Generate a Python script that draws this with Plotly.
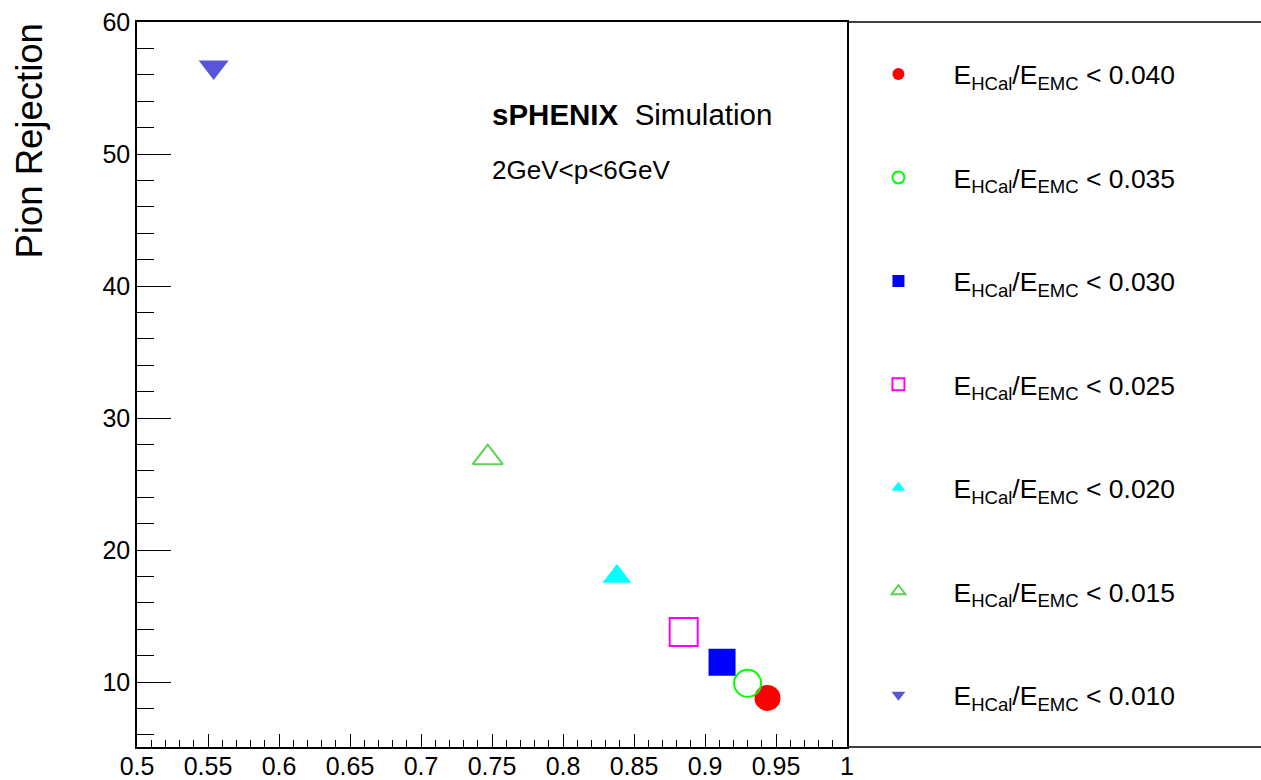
import plotly.graph_objects as go

# ---- data ----
cut_labels = ["0.040", "0.035", "0.030", "0.025", "0.020", "0.015", "0.010"]
efficiency = [0.944, 0.930, 0.912, 0.885, 0.838, 0.747, 0.554]
rejection = [8.8, 9.9, 11.5, 13.8, 18.0, 27.0, 56.6]
symbols = ["circle", "circle-open", "square", "square-open", "triangle-up", "triangle-up-open", "triangle-down"]
colors = ["#FF0000", "#00FF00", "#0000FF", "#FF00FF", "#00FFFF", "#59D454", "#5954D8"]
sizes = [26, 27, 27, 28, 25, 26, 26]

x_tickvals = [0.5, 0.55, 0.6, 0.65, 0.7, 0.75, 0.8, 0.85, 0.9, 0.95, 1.0]
x_ticktext = ["0.5", "0.55", "0.6", "0.65", "0.7", "0.75", "0.8", "0.85", "0.9", "0.95", "1"]
y_tickvals = [10, 20, 30, 40, 50, 60]
y_ticktext = ["10", "20", "30", "40", "50", "60"]

FONT = "Liberation Sans, Arial, sans-serif"

fig = go.Figure()
for i in range(len(cut_labels)):
    open_marker = symbols[i].endswith("-open")
    fig.add_trace(go.Scatter(
        x=[efficiency[i]], y=[rejection[i]],
        mode="markers",
        name="E<sub>HCal</sub>/E<sub>EMC</sub> &lt; " + cut_labels[i],
        legendgroup="g%d" % i,
        marker=dict(symbol=symbols[i], color=colors[i], size=sizes[i],
                    line=dict(width=2 if open_marker else 0, color=colors[i])),
    ))

W, H = 1261, 780
L, R, T, B = 137, 414, 22, 33
plot_w = W - L - R
plot_h = H - T - B

fig.update_layout(
    width=W, height=H,
    margin=dict(l=L, r=R, t=T, b=B, autoexpand=False),
    paper_bgcolor="white", plot_bgcolor="white",
    font=dict(family=FONT, color="black", size=25),
    showlegend=True,
    legend=dict(
        x=0.995, xanchor="left", y=0.961, yanchor="top",
        font=dict(family=FONT, size=26.5, color="black"),
        itemwidth=100, itemsizing="constant",
        tracegroupgap=66, traceorder="grouped",
        bgcolor="rgba(0,0,0,0)", borderwidth=0,
    ),
    xaxis=dict(
        range=[0.5, 1.0], tickvals=x_tickvals, ticktext=x_ticktext,
        ticks="inside", ticklen=13, tickwidth=1.3, tickcolor="black",
        minor=dict(dtick=0.01, ticks="inside", ticklen=7, tickwidth=1.3, tickcolor="black", showgrid=False),
        showline=True, linecolor="black", linewidth=1.5, mirror=True,
        showgrid=False, zeroline=False, automargin=False,
        tickfont=dict(family=FONT, size=25, color="black"),
        ticklabelstandoff=-4,
    ),
    yaxis=dict(
        range=[5.08, 60], tickvals=y_tickvals, ticktext=y_ticktext,
        ticks="inside", ticklen=34, tickwidth=1.3, tickcolor="black",
        minor=dict(dtick=2, ticks="inside", ticklen=17, tickwidth=1.3, tickcolor="black", showgrid=False),
        showline=True, linecolor="black", linewidth=1.5, mirror=True,
        showgrid=False, zeroline=False, automargin=False,
        tickfont=dict(family=FONT, size=25, color="black"),
        ticklabelstandoff=0,
    ),
)

# legend frame (top & bottom lines continuing to right edge)
x_right = (W - L) / plot_w + 0.05
fig.add_shape(type="line", xref="paper", yref="paper", x0=1, x1=x_right, y0=1, y1=1,
              line=dict(color="black", width=1.5))
fig.add_shape(type="line", xref="paper", yref="paper", x0=1, x1=x_right, y0=0, y1=0,
              line=dict(color="black", width=1.5))

# texts
fig.add_annotation(xref="paper", yref="paper", x=0.497, y=0.872, xanchor="left", yanchor="middle",
                   text="<b>sPHENIX</b>  Simulation", showarrow=False,
                   font=dict(family=FONT, size=29.5, color="black"))
fig.add_annotation(xref="paper", yref="paper", x=0.497, y=0.796, xanchor="left", yanchor="middle",
                   text="2GeV&lt;p&lt;6GeV", showarrow=False,
                   font=dict(family=FONT, size=26, color="black"))
fig.add_annotation(xref="paper", yref="paper", x=(29 - L) / plot_w, y=1.0, xanchor="center", yanchor="top",
                   text="Pion Rejection", textangle=-90, showarrow=False,
                   font=dict(family=FONT, size=36.5, color="black"))

fig.write_html("out.html")
